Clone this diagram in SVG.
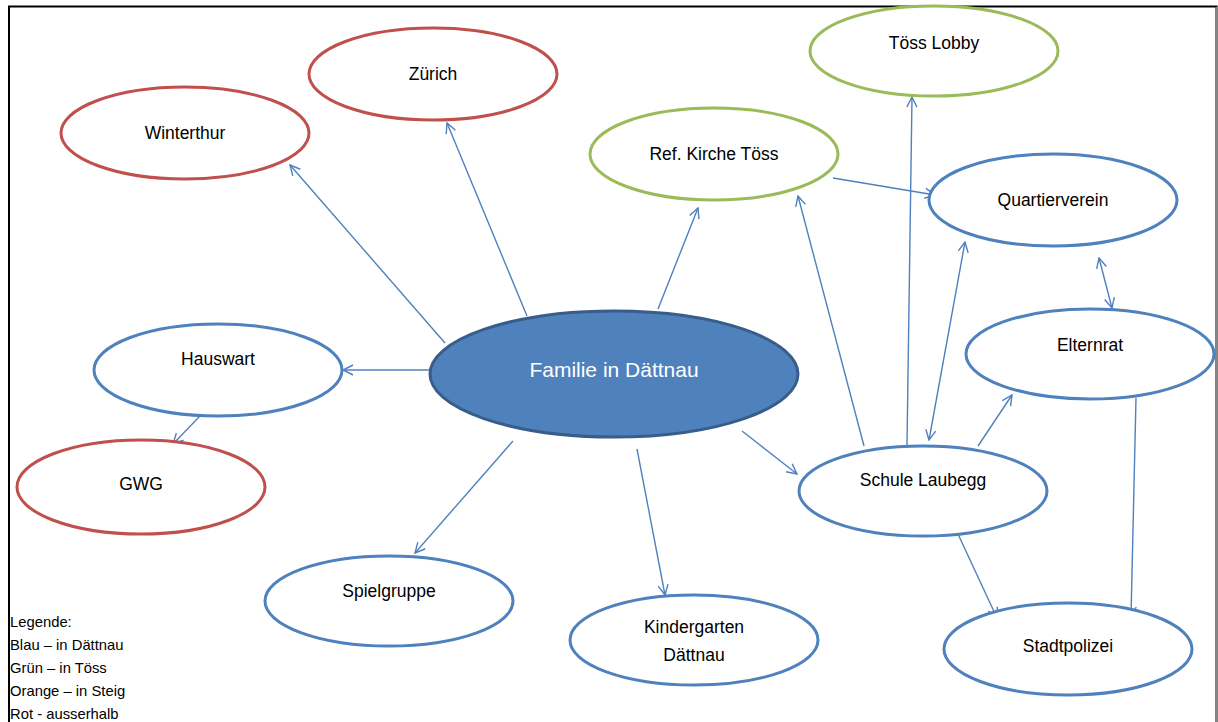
<svg xmlns="http://www.w3.org/2000/svg" width="1218" height="722" viewBox="0 0 1218 722">
<style>
text{font-family:"Liberation Sans",Arial,sans-serif;font-size:17.5px;fill:#000;text-anchor:middle;dominant-baseline:central}
.n ellipse{fill:#fff;stroke-width:3}
.blue ellipse{stroke:#4F81BD}
.red ellipse{stroke:#C0504D}
.green ellipse{stroke:#9BBB59}
#connectors line{stroke:#4F81BD;stroke-width:1.4;fill:none;marker-end:url(#arr)}
#connectors line.both{marker-start:url(#arr)}
.leg{text-anchor:start;font-size:14.8px;dominant-baseline:auto}
</style>
<defs>
<marker id="arr" viewBox="0 0 12 12" refX="11" refY="6" markerWidth="12" markerHeight="12" markerUnits="userSpaceOnUse" orient="auto-start-reverse">
<path d="M1,1 L11,6 L1,11" fill="none" stroke="#4F81BD" stroke-width="1.4"/>
</marker>
</defs>
<rect width="1218" height="722" fill="#fff"/>
<path d="M9,722 V6.5 H1216.5 V722" fill="none" stroke="#000" stroke-width="2"/>
<line x1="1216.5" y1="7" x2="1216.5" y2="722" stroke="#888" stroke-width="1.5"/>
<g id="connectors">
<line x1="445" y1="343" x2="290" y2="165"/>
<line x1="527" y1="316" x2="447" y2="123"/>
<line x1="658" y1="309" x2="698" y2="208"/>
<line x1="430" y1="370" x2="343" y2="370"/>
<line x1="200" y1="416" x2="173" y2="444"/>
<line x1="513" y1="441" x2="415" y2="553"/>
<line x1="637" y1="449" x2="665" y2="595"/>
<line x1="742" y1="431" x2="797" y2="474"/>
<line x1="864" y1="446" x2="798" y2="196"/>
<line x1="907" y1="445" x2="912" y2="97"/>
<line class="both" x1="929" y1="440" x2="965" y2="242"/>
<line x1="833" y1="178" x2="935" y2="195"/>
<line class="both" x1="1099" y1="258" x2="1112" y2="308"/>
<line x1="978" y1="446" x2="1012" y2="395"/>
<line x1="1136" y1="398" x2="1131" y2="617"/>
<line x1="958" y1="534" x2="997" y2="618"/>
</g>
<g id="familie">
<ellipse cx="614" cy="374" rx="184" ry="63" fill="#4F81BD" stroke="#385D8A" stroke-width="3"/>
<text x="614" y="369" style="fill:#fff;font-size:21px">Familie in Dättnau</text>
</g>
<g id="zuerich" class="n red"><ellipse cx="433" cy="74" rx="124" ry="46"/><text x="433" y="74">Zürich</text></g>
<g id="winterthur" class="n red"><ellipse cx="185" cy="133" rx="124" ry="46"/><text x="185" y="133">Winterthur</text></g>
<g id="toesslobby" class="n green"><ellipse cx="934" cy="51" rx="124" ry="45"/><text x="934" y="43">Töss Lobby</text></g>
<g id="refkirche" class="n green"><ellipse cx="714" cy="154" rx="124" ry="46"/><text x="714" y="154">Ref. Kirche Töss</text></g>
<g id="quartierverein" class="n blue"><ellipse cx="1053" cy="200" rx="124" ry="46"/><text x="1053" y="200">Quartierverein</text></g>
<g id="elternrat" class="n blue"><ellipse cx="1090" cy="354" rx="124" ry="45"/><text x="1090" y="345">Elternrat</text></g>
<g id="hauswart" class="n blue"><ellipse cx="218" cy="370" rx="124" ry="46"/><text x="218" y="359">Hauswart</text></g>
<g id="gwg" class="n red"><ellipse cx="141" cy="487" rx="124" ry="47"/><text x="141" y="484">GWG</text></g>
<g id="spielgruppe" class="n blue"><ellipse cx="389" cy="601" rx="124" ry="45"/><text x="389" y="591">Spielgruppe</text></g>
<g id="kindergarten" class="n blue"><ellipse cx="694" cy="640" rx="124" ry="45"/><text x="694" y="627">Kindergarten</text><text x="694" y="655">Dättnau</text></g>
<g id="schule" class="n blue"><ellipse cx="923" cy="491" rx="124" ry="45"/><text x="923" y="480">Schule Laubegg</text></g>
<g id="stadtpolizei" class="n blue"><ellipse cx="1068" cy="649" rx="124" ry="46"/><text x="1068" y="646">Stadtpolizei</text></g>
<g id="legende">
<text class="leg" x="10" y="627">Legende:</text>
<text class="leg" x="10" y="650">Blau – in Dättnau</text>
<text class="leg" x="10" y="673">Grün – in Töss</text>
<text class="leg" x="10" y="696">Orange – in Steig</text>
<text class="leg" x="10" y="719">Rot - ausserhalb</text>
</g>
</svg>
